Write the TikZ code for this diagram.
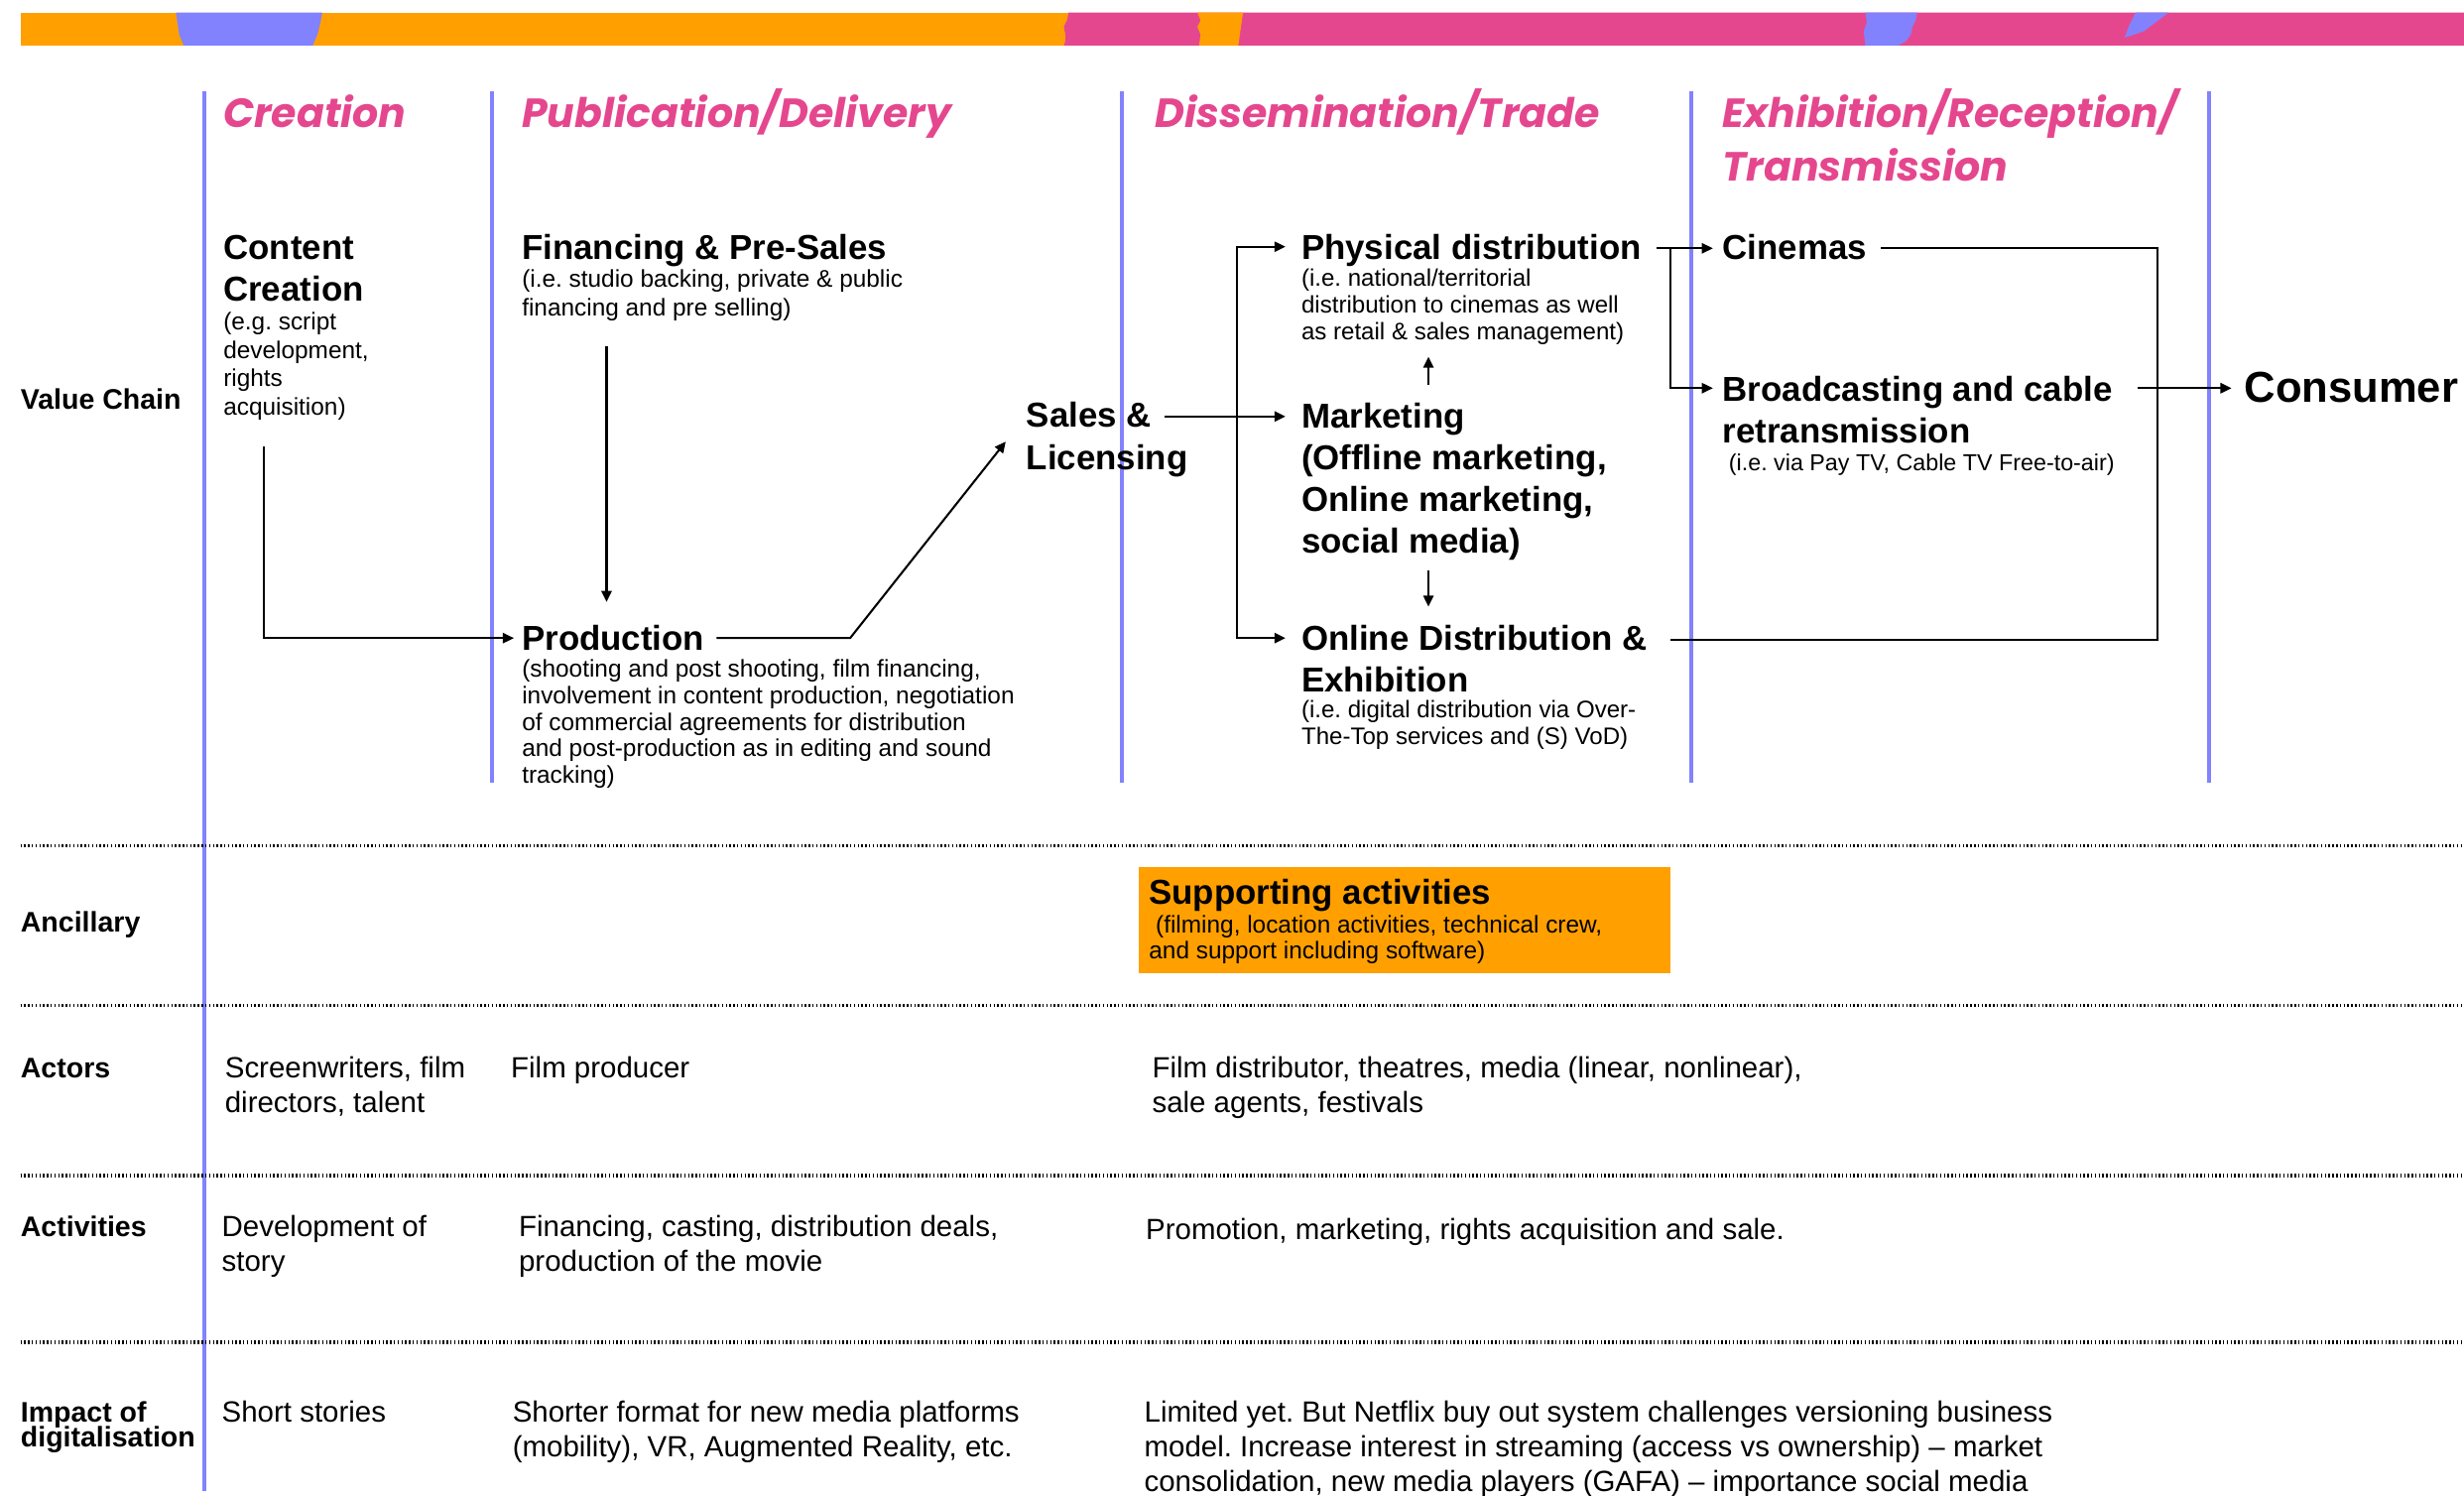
\documentclass[tikz,border=0pt]{standalone}
\usepackage{fontspec}
\setmainfont{Liberation Sans}
\newfontfamily\headfont{Poppins}
\usetikzlibrary{arrows.meta,calc}
\definecolor{barorange}{HTML}{FFA000}
\definecolor{barpink}{HTML}{E5478F}
\definecolor{barpurple}{HTML}{8282FF}
\newcommand\mytightlines{\lineskiplimit=-20pt\relax}
\frenchspacing
\tikzset{
  head/.style={font={\headfont\bfseries\itshape\fontsize{25.9}{34}\selectfont}, text=barpink, anchor=base west, inner sep=0pt, align=left},
  big/.style={font={\bfseries\fontsize{22}{26.6}\selectfont}, anchor=base west, inner sep=0pt, align=left},
  desc/.style={font={\fontsize{15.4}{17.5}\selectfont}, anchor=base west, inner sep=0pt, align=left},
  rowhead/.style={font={\bfseries\fontsize{18}{15.7}\selectfont\mytightlines}, anchor=base west, inner sep=0pt, align=left},
  rowtext/.style={font={\fontsize{18.6}{22}\selectfont}, anchor=base west, inner sep=0pt, align=left},
  conn/.style={line width=1.3pt, draw=black},
  arr/.style={conn, -{Triangle[length=7pt,width=6.5pt]}},
  twoarr/.style={conn, {Triangle[length=7pt,width=6.5pt]}-{Triangle[length=7pt,width=6.5pt]}},
  vline/.style={line width=2.4pt, draw=barpurple},
  dotline/.style={line width=2pt, dash pattern=on 0.9pt off 1.5pt},
}
\begin{document}
\begin{tikzpicture}[x=1pt,y=-1pt]
\useasboundingbox (0,0) rectangle (1568,951.3);
% ---- top bar ----
\fill[barorange] (13,8) rectangle (1568,29);
\fill[barpink] (680,8) -- (679,13) -- (677,17) -- (678,22) -- (678,26) -- (677,29) -- (1568,29) -- (1568,8) -- cycle;
\fill[barorange] (762,8) -- (764,13) -- (762,17) -- (764,22) -- (763,29) -- (788,29) -- (789,22) -- (790,15) -- (791,8) -- cycle;
\fill[barpurple] (112,8) -- (113,15) -- (114,22) -- (117,29) -- (199,29) -- (202,22) -- (204,14) -- (205,8) -- cycle;
\fill[barpurple] (1187,8) -- (1188,14) -- (1186,20) -- (1187,29) -- (1208,29) -- (1213,26) -- (1216,22) -- (1217,17) -- (1219,13) -- (1220,8) -- cycle;
\fill[barpurple] (1359,8) -- (1380,8) -- (1372,14) -- (1364,20) -- (1352,24) -- (1355,16) -- cycle;
% ---- vertical lines ----
\draw[vline] (130,58) -- (130,949);
\draw[vline] (313,58) -- (313,498);
\draw[vline] (714,58) -- (714,498);
\draw[vline] (1076,58) -- (1076,498);
\draw[vline] (1406,58) -- (1406,498);
% ---- dotted separators ----
\foreach \yy in {538,639.5,748,854} \draw[dotline] (13,\yy) -- (1568,\yy);
% ---- headings (multi-line nodes: base = last line) ----
\node[head] (hcre) at (141.9,81) {Creation};
\node[head] (hpub) at (332,81) {Publication/Delivery};
\node[head] (hdis) at (735,81) {Dissemination/Trade};
\node[head] (hexh) at (1096,115) {Exhibition/Reception/\\Transmission};
% ---- value chain ----
\node[rowhead] (lvc) at (13,260.5) {Value Chain};
\node[big] (cc) at (142,191.8) {Content\\Creation};
\node[desc, font={\fontsize{15.4}{18}\selectfont}] (ccd) at (142,264) {(e.g. script\\development,\\rights\\acquisition)};
\node[big] (fin) at (332,165.2) {Financing \& Pre-Sales};
\node[desc, font={\fontsize{15.4}{18}\selectfont}] (find) at (332,201) {(i.e. studio backing, private \& public\\financing and pre selling)};
\node[big] (prod) at (332,414) {Production};
\node[desc, font={\fontsize{15.4}{16.8}\selectfont}] (prodd) at (332,498.2) {(shooting and post shooting, film financing,\\involvement in content production, negotiation\\of commercial agreements for distribution\\and post-production as in editing and sound\\tracking)};
\node[big] (sales) at (653,298.6) {Sales \&\\Licensing};
\node[big] (phys) at (828,165.2) {Physical distribution};
\node[desc, font={\fontsize{15.2}{17}\selectfont}] (physd) at (828,216) {(i.e. national/territorial\\distribution to cinemas as well\\as retail \& sales management)};
\node[big, font={\bfseries\fontsize{22}{26.5}\selectfont}] (mkt) at (828,352.1) {Marketing\\(Offline marketing,\\Online marketing,\\social media)};
\node[big, font={\bfseries\fontsize{22}{26.5}\selectfont}] (onl) at (828,440.5) {Online Distribution \&\\Exhibition};
\node[desc, font={\fontsize{15.2}{17}\selectfont}] (onld) at (828,474) {(i.e. digital distribution via Over-\\The-Top services and (S) VoD)};
\node[big] (cin) at (1096,165.2) {Cinemas};
\node[big] (brd) at (1096,282.1) {Broadcasting and cable\\retransmission};
\node[desc, font={\fontsize{14.7}{17}\selectfont}] (brdd) at (1100,299.5) {(i.e. via Pay TV, Cable TV Free-to-air)};
\node[big, font={\bfseries\fontsize{27.5}{32}\selectfont}] (cons) at (1428,256) {Consumer};
% ---- connectors ----
\coordinate (ccout) at (168,284);
\coordinate (prodin) at (327,406);
\draw[arr] (ccout) |- (prodin);
\coordinate (finout) at (386,220);
\coordinate (finin) at (386,383);
\draw[arr] (finout) -- (finin);
\coordinate (prodout) at (456,406);
\coordinate (prodbend) at (541,406);
\coordinate (salesin) at (640,281);
\draw[arr] (prodout) -- (prodbend) -- (salesin);
\coordinate (salesout) at (741,265);
\coordinate (mktin) at (818,265);
\draw[arr] (salesout) -- (mktin);
\coordinate (physin) at (818,157);
\coordinate (onlin) at (818,406);
\draw[twoarr] (physin) -- (787,157) -- (787,406) -- (onlin);
\coordinate (mktup0) at (909,245);
\coordinate (mktup1) at (909,227);
\draw[arr] (mktup0) -- (mktup1);
\coordinate (mktdn0) at (909,363);
\coordinate (mktdn1) at (909,386);
\draw[arr] (mktdn0) -- (mktdn1);
\coordinate (physout) at (1054,158);
\coordinate (cinin) at (1090,158);
\coordinate (physbr) at (1063,158);
\coordinate (brdin) at (1090,247);
\draw[arr] (physout) -- (cinin);
\draw[arr] (physbr) |- (brdin);
\coordinate (cinout) at (1197,158);
\coordinate (loopc) at (1373,407);
\coordinate (onlout) at (1063,407);
\draw[conn] (cinout) -| (loopc) -- (onlout);
\coordinate (brdout) at (1360,247);
\coordinate (consin) at (1420,247);
\draw[arr] (brdout) -- (consin);
% ---- ancillary ----
\node[rowhead] (lanc) at (13,593) {Ancillary};
\node[fill=barorange, inner sep=0pt, minimum width=338.5pt, minimum height=67.3pt] (supbox) at (893.95,585.45) {};
\node[big] (supt) at (731,575.5) {Supporting activities};
\node[desc, font={\fontsize{15.4}{16.4}\selectfont}] (supd) at (731,609.8) {\ (filming, location activities, technical crew,\\and support including software)};
% ---- actors ----
\node[rowhead] (lact) at (13,686) {Actors};
\node[rowtext] (act1) at (143,708) {Screenwriters, film\\directors, talent};
\node[rowtext] (act2) at (325,686) {Film producer};
\node[rowtext] (act3) at (733,708) {Film distributor, theatres, media (linear, nonlinear),\\sale agents, festivals};
% ---- activities ----
\node[rowhead] (lactv) at (13,787) {Activities};
\node[rowtext] (actv1) at (141,809) {Development of\\story};
\node[rowtext] (actv2) at (330,809) {Financing, casting, distribution deals,\\production of the movie};
\node[rowtext] (actv3) at (729,789) {Promotion, marketing, rights acquisition and sale.};
% ---- impact ----
\node[rowhead] (limp) at (13,920.6) {Impact of\\digitalisation};
\node[rowtext] (imp1) at (141,905) {Short stories};
\node[rowtext] (imp2) at (326,927) {Shorter format for new media platforms\\(mobility), VR, Augmented Reality, etc.};
\node[rowtext] (imp3) at (728,949) {Limited yet. But Netflix buy out system challenges versioning business\\model. Increase interest in streaming (access vs ownership) -- market\\consolidation, new media players (GAFA) -- importance social media};
\end{tikzpicture}
\end{document}
